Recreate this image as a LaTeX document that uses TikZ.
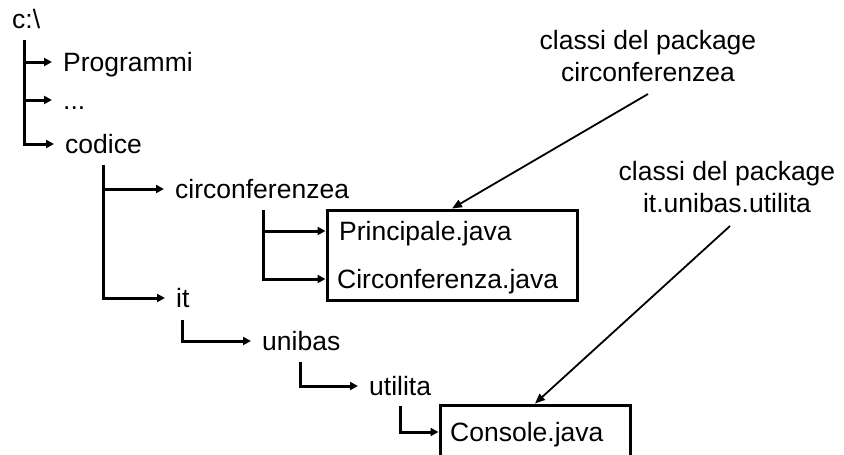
\documentclass[tikz,border=0pt]{standalone}
\usepackage{fontspec}
\setmainfont{Liberation Sans}
\usetikzlibrary{arrows.meta}
\begin{document}
\begin{tikzpicture}[x=1pt,y=-1pt,
  every node/.style={font=\fontsize{26.5}{32}\selectfont},
  entry/.style={anchor=west, inner xsep=11pt, inner ysep=0pt, text height=18pt, text depth=0pt},
  fileentry/.style={anchor=west, inner sep=0pt, text height=18pt, text depth=0pt},
  filebox/.style={draw, line width=3pt, inner sep=0pt},
  tree/.style={line width=3pt, -{Triangle[length=8pt,width=8pt]}},
  note/.style={align=center, inner sep=0pt, anchor=south},
  pointer/.style={line width=1.8pt, -{Triangle[length=10pt,width=8pt]}}]

\useasboundingbox (0,0) rectangle (844,455);
\clip (0,0) rectangle (844,455);

% root directory and its entries
\node[anchor=base west, inner sep=0pt] (root) at (12,28) {c:\textbackslash};
\coordinate (s0) at (24,40);
\node[entry] (prog) at (52,62) {Programmi};
\node[entry] (dots) at (52,100) {...};
\node[entry] (codice) at (54,144) {codice};
\draw[tree] (s0) |- (prog.west);
\draw[tree] (s0) |- (dots.west);
\draw[tree] (s0) |- (codice.west);

% contents of codice
\coordinate (s1) at (103,165);
\node[entry] (circ) at (164,189) {circonferenzea};
\node[entry] (it) at (165,298) {it};
\draw[tree] (s1) |- (circ.west);
\draw[tree] (s1) |- (it.west);

% package circonferenzea
\coordinate (s2) at (263,210);
\node[filebox, minimum width=250pt, minimum height=90pt] (box1) at (452,255) {};
\node[fileentry] (princ) at (339,231) {Principale.java};
\node[fileentry] (circjava) at (337,279) {Circonferenza.java};
\draw[tree] (s2) |- (box1.west |- princ.west);
\draw[tree] (s2) |- (box1.west |- circjava.west);

% package it.unibas.utilita
\coordinate (s3) at (182,320);
\node[entry] (unibas) at (251,341) {unibas};
\draw[tree] (s3) |- (unibas.west);
\coordinate (s4) at (300,362);
\node[entry] (utilita) at (358,386) {utilita};
\draw[tree] (s4) |- (utilita.west);
\coordinate (s5) at (400,406);
\node[filebox, minimum width=190pt, minimum height=80pt] (box2) at (535,445) {};
\node[fileentry] (console) at (450,432) {Console.java};
\draw[tree] (s5) |- (box2.west |- console.west);

% annotations
\node[note] (note1) at (648,82) {classi del package\\circonferenzea};
\node[note] (note2) at (727,213) {classi del package\\it.unibas.utilita};
\draw[pointer] ([yshift=-12pt]note1.south) -- (box1.north);
\draw[pointer] ([xshift=3pt,yshift=-13pt]note2.south) -- (box2.north);
\end{tikzpicture}
\end{document}
